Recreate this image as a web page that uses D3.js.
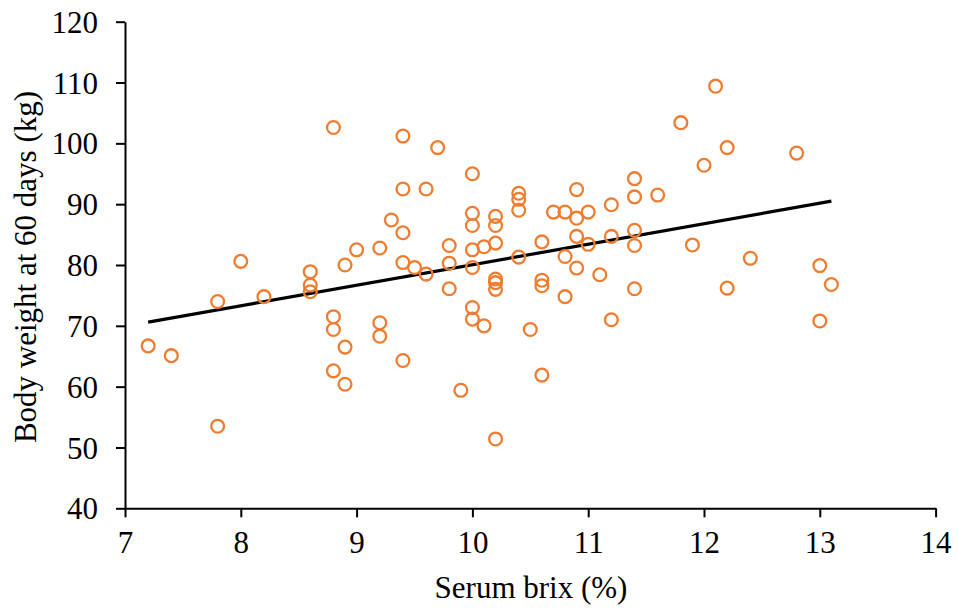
<!DOCTYPE html>
<html>
<head>
<meta charset="utf-8">
<script src="https://cdn.jsdelivr.net/npm/d3@7"></script>
<style>
  html, body { margin: 0; padding: 0; background: #fff; }
  svg { display: block; font-family: "Times New Roman", "Liberation Serif", serif; }
</style>
</head>
<body>
<svg id="chart" width="958" height="612"></svg>
<script>
// Serum brix (%) of each calf
const brix = [
  7.2, 7.4, 7.8, 7.8, 8.0, 8.2, 8.6, 8.6, 8.6, 8.8,
  8.8, 8.8, 8.8, 8.9, 8.9, 8.9, 9.0, 9.2, 9.2, 9.2,
  9.3, 9.4, 9.4, 9.4, 9.4, 9.4, 9.5, 9.7, 9.6, 9.6,
  9.8, 9.8, 9.8, 9.9, 10.0, 10.0, 10.0, 10.0, 10.0, 10.0,
  10.0, 10.1, 10.1, 10.2, 10.2, 10.2, 10.2, 10.2, 10.2, 10.2,
  10.4, 10.4, 10.4, 10.4, 10.5, 10.6, 10.6, 10.6, 10.6, 10.7,
  10.8, 10.8, 10.8, 10.9, 10.9, 10.9, 10.9, 11.0, 11.0, 11.1,
  11.2, 11.2, 11.2, 11.4, 11.4, 11.4, 11.4, 11.4, 11.6, 11.8,
  11.9, 12.0, 12.1, 12.2, 12.2, 12.4, 12.8, 13.0, 13.0, 13.1
];

// Body weight at 60 days (kg), same order as brix
const weight = [
  66.7, 65.1, 74.0, 53.5, 80.6, 74.8, 78.9, 76.7, 75.6, 102.6,
  71.5, 69.4, 62.6, 80.0, 66.5, 60.4, 82.5, 82.8, 70.5, 68.3,
  87.4, 101.2, 92.5, 85.3, 80.4, 64.3, 79.6, 99.3, 92.5, 78.5,
  83.2, 80.3, 76.1, 59.4, 95.0, 88.5, 86.5, 82.5, 79.6, 73.0,
  71.1, 83.0, 70.0, 88.0, 86.5, 83.6, 77.7, 77.1, 76.0, 51.4,
  91.8, 90.8, 89.0, 81.3, 69.4, 83.8, 77.5, 76.6, 61.9, 88.7,
  88.7, 81.4, 74.8, 92.4, 87.7, 84.7, 79.5, 88.7, 83.4, 78.4,
  89.9, 84.7, 71.0, 94.2, 91.2, 85.7, 83.2, 76.1, 91.5, 103.4,
  83.3, 96.4, 109.4, 99.3, 76.2, 81.1, 98.4, 79.9, 70.8, 76.8
];

// Linear trend line end points
const trendBrix = [7.2, 13.1];
const trendWeight = [70.6, 90.5];

// Axis ticks
const xTicks = [7, 8, 9, 10, 11, 12, 13, 14];
const yTicks = [40, 50, 60, 70, 80, 90, 100, 110, 120];

const svg = d3.select("#chart");
const plotLeft = 125, plotRight = 935.6, plotTop = 21.7, plotBottom = 508.3;

const x = d3.scaleLinear().domain([7, 14]).range([plotLeft, plotRight]);
const y = d3.scaleLinear().domain([40, 120]).range([plotBottom, plotTop]);

const orange = "#ED7D31";
const fontSize = "31px";

// Axes
const xAxis = svg.append("g")
  .attr("transform", `translate(0,${plotBottom})`)
  .call(d3.axisBottom(x).tickValues(xTicks).tickFormat(d3.format("d"))
    .tickSize(9).tickSizeOuter(0).tickPadding(26));
const yAxis = svg.append("g")
  .attr("transform", `translate(${plotLeft},0)`)
  .call(d3.axisLeft(y).tickValues(yTicks).tickFormat(d3.format("d"))
    .tickSize(9).tickSizeOuter(0).tickPadding(18));

[xAxis, yAxis].forEach(g => {
  g.selectAll("path.domain").attr("stroke", "#000").attr("stroke-width", 2);
  g.selectAll(".tick line").attr("stroke", "#000").attr("stroke-width", 2);
  g.selectAll(".tick text")
    .attr("fill", "#000")
    .style("font-family", '"Times New Roman", "Liberation Serif", serif')
    .style("font-size", fontSize);
});
xAxis.selectAll(".tick text").attr("dy", "0.32em");
yAxis.selectAll(".tick text").attr("dy", "0.34em");

// Trend line
svg.append("path")
  .datum(d3.zip(trendBrix, trendWeight))
  .attr("fill", "none")
  .attr("stroke", "#000")
  .attr("stroke-width", 3.2)
  .attr("d", d3.line().x(d => x(d[0])).y(d => y(d[1])));

// Scatter points
svg.append("g")
  .selectAll("circle")
  .data(d3.zip(brix, weight))
  .join("circle")
  .attr("cx", d => x(d[0]))
  .attr("cy", d => y(d[1]))
  .attr("r", 6.4)
  .attr("fill", "none")
  .attr("stroke", orange)
  .attr("stroke-width", 2.3);

// Axis titles
svg.append("text")
  .attr("x", 531)
  .attr("y", 598)
  .attr("text-anchor", "middle")
  .style("font-size", fontSize)
  .text("Serum brix (%)");

svg.append("text")
  .attr("transform", "translate(36,267) rotate(-90)")
  .attr("text-anchor", "middle")
  .style("font-size", fontSize)
  .text("Body weight at 60 days (kg)");
</script>
</body>
</html>
